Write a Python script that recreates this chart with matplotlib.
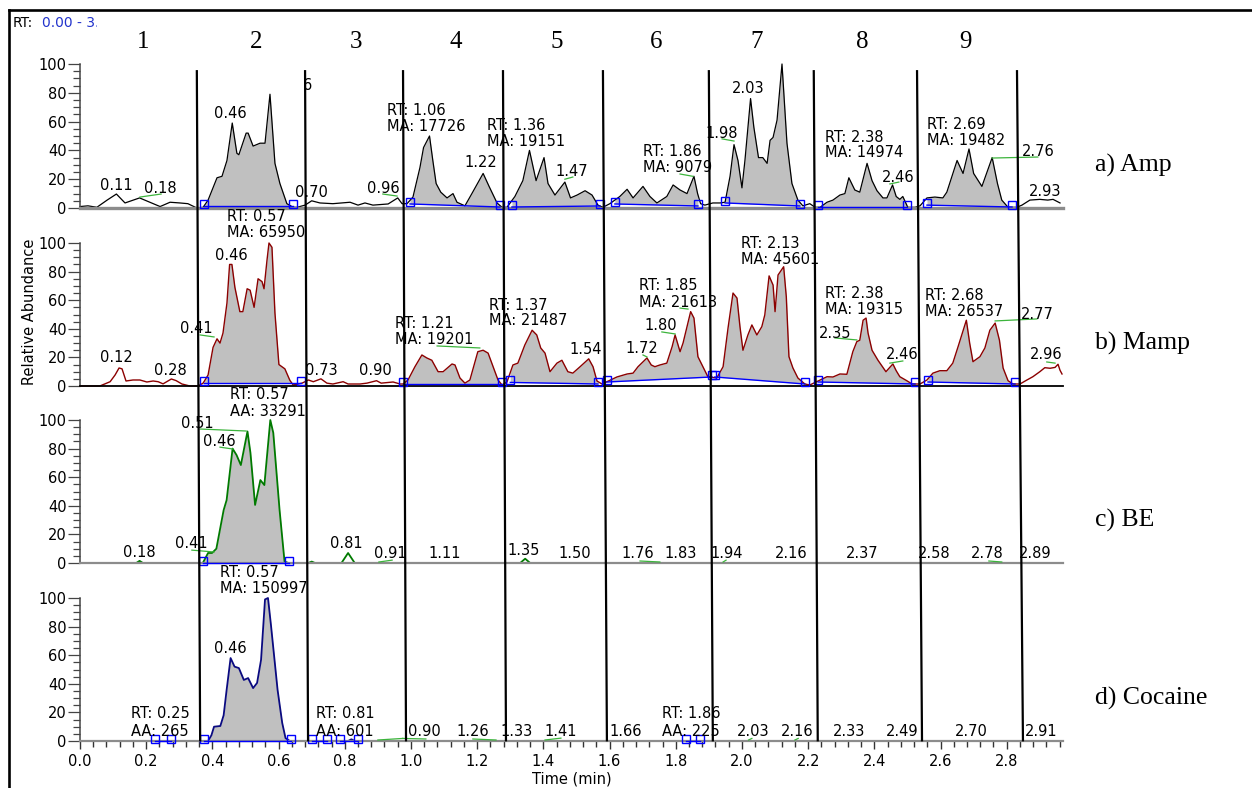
import numpy as np
import matplotlib
matplotlib.use("Agg")
import matplotlib.pyplot as plt
from matplotlib.lines import Line2D
from matplotlib.transforms import Bbox
from matplotlib.ticker import MultipleLocator, FormatStrFormatter

# ---------------------------------------------------------------- traces
# a) Amp  (time in min, relative abundance in %)
amp_t = [0.000, 0.024, 0.051, 0.082, 0.110, 0.136, 0.180, 0.242, 0.272, 0.302,
         0.326, 0.353, 0.372, 0.387, 0.414, 0.429, 0.444, 0.460, 0.474, 0.480,
         0.502, 0.508, 0.523, 0.544, 0.559, 0.574, 0.589, 0.604, 0.625, 0.644,
         0.656, 0.680, 0.700, 0.725, 0.764, 0.816, 0.840, 0.861, 0.885, 0.915,
         0.931, 0.960, 0.973, 0.988, 1.006, 1.027, 1.038, 1.056, 1.066, 1.076,
         1.090, 1.109, 1.127, 1.139, 1.163, 1.184, 1.218, 1.236, 1.260, 1.275,
         1.290, 1.314, 1.338, 1.358, 1.378, 1.402, 1.414, 1.435, 1.465, 1.482,
         1.502, 1.526, 1.547, 1.565, 1.580, 1.601, 1.631, 1.653, 1.671, 1.701,
         1.722, 1.743, 1.773, 1.792, 1.813, 1.834, 1.855, 1.866, 1.875, 1.888,
         1.912, 1.934, 1.949, 1.964, 1.976, 1.988, 2.000, 2.009, 2.026, 2.036,
         2.050, 2.063, 2.076, 2.085, 2.094, 2.106, 2.121, 2.136, 2.151, 2.169,
         2.184, 2.205, 2.221, 2.236, 2.257, 2.275, 2.296, 2.311, 2.323, 2.341,
         2.356, 2.378, 2.393, 2.408, 2.426, 2.438, 2.455, 2.466, 2.477, 2.486,
         2.501, 2.523, 2.538, 2.559, 2.583, 2.607, 2.619, 2.650, 2.668, 2.686,
         2.700, 2.725, 2.756, 2.772, 2.785, 2.804, 2.831, 2.846, 2.870, 2.900,
         2.924, 2.940, 2.961]
amp_v = [1, 1.5, 0.5, 5.5, 9.7, 3.5, 7, 1, 4, 3.5,
         3, 0, 0.5, 5.5, 21, 22, 33, 59, 38, 37,
         52, 52, 43, 45, 45, 79, 31, 17, 3, 0.5,
         0.5, 2, 5, 3.5, 3, 4, 2, 3.5, 2, 2.5,
         2.8, 7, 3, 3, 7.6, 28, 42, 50, 33, 17,
         11, 7, 10, 4, 1.5, 10, 24, 15, 3.5, 0.5,
         0.5, 8, 19, 40, 19, 35, 17, 9, 18, 7,
         9, 12, 9, 2, 0.5, 3, 8, 13, 7, 15,
         8, 3.5, 8, 16, 12.5, 10, 22, 10, 3, 2,
         3.5, 3.5, 4, 22, 44, 33, 14, 33, 76, 56,
         35, 35, 31, 47, 49, 61, 100, 45, 17, 5.5,
         1.5, 3, 0.5, 0.5, 4, 5.5, 9, 10, 21, 12.5,
         11, 31, 19, 12, 7, 7, 16, 8, 6, 8,
         0.5, 0.5, 1.5, 7, 7.6, 7, 11, 33, 24, 41,
         24, 15, 35, 17, 5.5, 0.5, 0.5, 2, 5.5, 6,
         5.5, 6, 3.5]

# b) Mamp
mamp_t = [0.000, 0.060, 0.091, 0.106, 0.118, 0.127, 0.139, 0.160, 0.181, 0.202,
          0.221, 0.236, 0.251, 0.276, 0.290, 0.308, 0.332, 0.356, 0.372, 0.387,
          0.402, 0.414, 0.423, 0.432, 0.444, 0.452, 0.459, 0.468, 0.483, 0.492,
          0.505, 0.514, 0.526, 0.538, 0.550, 0.556, 0.565, 0.571, 0.580, 0.589,
          0.601, 0.619, 0.634, 0.644, 0.671, 0.690, 0.705, 0.728, 0.746, 0.764,
          0.795, 0.810, 0.846, 0.867, 0.896, 0.910, 0.946, 0.967, 0.976, 0.991,
          1.012, 1.033, 1.048, 1.063, 1.082, 1.097, 1.124, 1.133, 1.148, 1.163,
          1.178, 1.202, 1.218, 1.233, 1.248, 1.263, 1.275, 1.290, 1.308, 1.323,
          1.344, 1.366, 1.380, 1.392, 1.405, 1.420, 1.441, 1.456, 1.474, 1.489,
          1.511, 1.537, 1.550, 1.562, 1.577, 1.592, 1.622, 1.653, 1.671, 1.686,
          1.713, 1.726, 1.737, 1.752, 1.773, 1.789, 1.798, 1.813, 1.822, 1.845,
          1.855, 1.867, 1.882, 1.897, 1.924, 1.943, 1.958, 1.973, 1.985, 1.994,
          2.003, 2.018, 2.030, 2.045, 2.060, 2.069, 2.082, 2.094, 2.100, 2.109,
          2.126, 2.134, 2.142, 2.154, 2.169, 2.190, 2.205, 2.236, 2.257, 2.275,
          2.296, 2.317, 2.335, 2.347, 2.356, 2.366, 2.375, 2.381, 2.393, 2.411,
          2.435, 2.456, 2.466, 2.477, 2.498, 2.514, 2.538, 2.559, 2.577, 2.598,
          2.619, 2.637, 2.653, 2.678, 2.688, 2.698, 2.719, 2.734, 2.749, 2.765,
          2.778, 2.789, 2.804, 2.819, 2.840, 2.861, 2.879, 2.900, 2.915, 2.931,
          2.946, 2.955, 2.961, 2.967]
mamp_v = [0, 0, 3, 7.7, 12.6, 12, 3.5, 4.2, 4.2, 2.8,
          3.5, 3, 1.5, 4.9, 3.8, 1.4, 0, 0, 2, 7.7,
          27, 33, 30, 37, 58, 85, 85, 69, 52, 52,
          68, 67, 55, 75, 73, 68, 88, 100, 97, 51,
          15, 12, 4, 0.7, 2, 4.2, 3, 5, 2, 1.4,
          3, 1.4, 1.4, 2, 3.7, 2, 2.8, 1.4, 1.4, 4.2,
          13.5, 21.7, 19.6, 18, 10, 10, 15.4, 14.7, 5.6, 2,
          4.2, 24, 25, 23, 13.5, 4.2, 0.7, 2.8, 14.7, 16,
          28.7, 39, 35.7, 26.6, 23, 10, 16, 18, 10, 9,
          13.5, 19, 13.5, 3.5, 1.4, 3, 6.3, 8.4, 9, 13.5,
          19.6, 14.7, 13.5, 14.7, 16, 27.5, 35.7, 24, 30, 52,
          47.5, 20.5, 13.5, 6.5, 5.6, 13.5, 40.6, 65, 61.5, 41.5,
          25, 35.7, 42.7, 35.7, 41.5, 49.7, 77, 70.6, 52, 77.6,
          83.4, 62.4, 20.5, 12.6, 5.6, 1.4, 0.7, 4.2, 6.5, 6.3,
          8.4, 8.2, 24, 31, 32, 46, 47.5, 37, 25, 18,
          10, 15.4, 10.7, 6.5, 3.7, 1.4, 1.4, 4.2, 9, 10.7,
          10.7, 16, 27.5, 46, 30, 17, 20.5, 26.6, 39, 44,
          32, 12.6, 3.7, 1.4, 1.4, 4.2, 6.5, 10, 12.8, 12.4,
          13, 15.2, 11, 8.4]

# c) BE
be_t = [0.000, 0.170, 0.180, 0.190, 0.371, 0.387, 0.399, 0.412, 0.434, 0.443,
        0.461, 0.473, 0.486, 0.506, 0.515, 0.529, 0.545, 0.557, 0.575, 0.584,
        0.603, 0.618, 0.630, 0.690, 0.700, 0.710, 0.790, 0.810, 0.830, 1.330,
        1.345, 1.360, 2.970]
be_v = [0, 0, 1.5, 0, 0, 7, 7, 10, 37, 44,
        80, 75.5, 68.5, 92, 77, 40.6, 58, 54.5, 100, 91,
        37, 1, 0, 0, 1, 0, 0, 7, 0, 0,
        3, 0, 0]

# d) Cocaine
coc_t = [0.000, 0.387, 0.397, 0.405, 0.424, 0.434, 0.443, 0.455, 0.467, 0.480,
         0.495, 0.508, 0.523, 0.535, 0.547, 0.559, 0.568, 0.577, 0.597, 0.611,
         0.621, 0.634, 0.810, 0.820, 0.830, 2.970]
coc_v = [0, 0, 4, 10, 10.5, 18, 35.7, 58, 52, 51,
         42.7, 44, 37, 40.6, 56.7, 99, 100, 81, 35.7, 12.6,
         2, 0, 0, 1.2, 0, 0]

# integration windows: (start time, start level, end time, end level)
amp_windows = [(0.375, 1.4, 0.645, 1.4), (0.997, 2.8, 1.269, 0.7),
               (1.305, 0.7, 1.571, 1.4), (1.616, 2.8, 1.867, 1.4),
               (1.949, 3.5, 2.175, 1.4), (2.230, 0.7, 2.498, 0.7),
               (2.559, 2.0, 2.816, 0.7)]
mamp_windows = [(0.375, 2.0, 0.668, 2.0), (0.976, 1.4, 1.275, 1.4),
                (1.300, 2.5, 1.565, 1.4), (1.592, 2.8, 1.909, 6.3),
                (1.918, 6.3, 2.190, 1.4), (2.230, 2.8, 2.523, 1.4),
                (2.562, 2.8, 2.825, 1.4)]
be_windows = [(0.372, 0, 0.631, 0)]
coc_windows = [(0.375, 0, 0.636, 0), (0.227, 0, 0.274, 0), (0.700, 0, 0.745, 0),
               (0.786, 0, 0.840, 0), (1.830, 0, 1.874, 0)]

# peak annotations: (text, time, level, horizontal alignment)
amp_labels = [("0.11", 0.109, 15.3, "center"), ("0.18", 0.242, 13.2, "center"),
              ("0.46", 0.453, 65.3, "center"), ("6", 0.689, 85.4, "center"),
              ("0.70", 0.698, 11.1, "center"), ("0.96", 0.915, 13.2, "center"),
              ("RT: 1.06", 0.927, 68.0, "left"), ("MA: 17726", 0.927, 56.3, "left"),
              ("1.22", 1.211, 31.3, "center"),
              ("RT: 1.36", 1.230, 57.6, "left"), ("MA: 19151", 1.230, 46.5, "left"),
              ("1.47", 1.486, 25.0, "center"),
              ("RT: 1.86", 1.701, 38.9, "left"), ("MA: 9079", 1.701, 27.8, "left"),
              ("1.98", 1.940, 52.0, "center"), ("2.03", 2.018, 83.3, "center"),
              ("RT: 2.38", 2.251, 49.3, "left"), ("MA: 14974", 2.251, 38.2, "left"),
              ("2.46", 2.471, 21.5, "center"),
              ("RT: 2.69", 2.559, 58.3, "left"), ("MA: 19482", 2.559, 47.2, "left"),
              ("2.76", 2.894, 38.9, "center"), ("2.93", 2.915, 11.8, "center")]
mamp_labels = [("RT: 0.57", 0.444, 118.2, "left"), ("MA: 65950", 0.444, 107.0, "left"),
               ("0.12", 0.109, 19.6, "center"), ("0.28", 0.272, 10.5, "center"),
               ("0.46", 0.456, 91.6, "center"), ("0.41", 0.350, 39.9, "center"),
               ("0.73", 0.728, 10.5, "center"), ("0.90", 0.891, 10.5, "center"),
               ("RT: 1.21", 0.952, 43.4, "left"), ("MA: 19201", 0.952, 32.2, "left"),
               ("RT: 1.37", 1.236, 56.6, "left"), ("MA: 21487", 1.236, 45.5, "left"),
               ("1.54", 1.529, 25.2, "center"), ("1.72", 1.698, 25.9, "center"),
               ("1.80", 1.755, 42.0, "center"),
               ("RT: 1.85", 1.689, 70.6, "left"), ("MA: 21613", 1.689, 58.7, "left"),
               ("RT: 2.13", 1.997, 100.0, "left"), ("MA: 45601", 1.997, 88.8, "left"),
               ("RT: 2.38", 2.251, 65.0, "left"), ("MA: 19315", 2.251, 53.8, "left"),
               ("2.35", 2.281, 37.0, "center"), ("2.46", 2.483, 21.7, "center"),
               ("RT: 2.68", 2.553, 63.6, "left"), ("MA: 26537", 2.553, 52.4, "left"),
               ("2.77", 2.891, 50.3, "center"), ("2.96", 2.918, 21.7, "center")]
be_labels = [("RT: 0.57", 0.453, 117.5, "left"), ("AA: 33291", 0.453, 105.6, "left"),
             ("0.51", 0.353, 97.9, "center"), ("0.46", 0.420, 85.3, "center"),
             ("0.18", 0.178, 7.0, "center"), ("0.41", 0.335, 13.3, "center"),
             ("0.81", 0.804, 13.3, "center"), ("0.91", 0.937, 6.3, "center"),
             ("1.11", 1.103, 6.3, "center"), ("1.35", 1.341, 8.4, "center"),
             ("1.50", 1.495, 6.3, "center"), ("1.76", 1.686, 6.3, "center"),
             ("1.83", 1.816, 6.3, "center"), ("1.94", 1.955, 6.3, "center"),
             ("2.16", 2.148, 6.3, "center"), ("2.37", 2.363, 6.3, "center"),
             ("2.58", 2.580, 6.3, "center"), ("2.78", 2.740, 6.3, "center"),
             ("2.89", 2.885, 6.3, "center")]
coc_labels = [("RT: 0.57", 0.423, 117.5, "left"), ("MA: 150997", 0.423, 106.3, "left"),
              ("0.46", 0.453, 65.0, "center"),
              ("RT: 0.25", 0.154, 18.9, "left"), ("AA: 265", 0.154, 6.3, "left"),
              ("RT: 0.81", 0.713, 18.9, "left"), ("AA: 601", 0.713, 6.3, "left"),
              ("0.90", 1.039, 6.3, "center"), ("1.26", 1.187, 6.3, "center"),
              ("1.33", 1.320, 6.3, "center"), ("1.41", 1.453, 6.3, "center"),
              ("1.66", 1.650, 6.3, "center"),
              ("RT: 1.86", 1.758, 18.9, "left"), ("AA: 225", 1.758, 6.3, "left"),
              ("2.03", 2.033, 6.3, "center"), ("2.16", 2.166, 6.3, "center"),
              ("2.33", 2.323, 6.3, "center"), ("2.49", 2.483, 6.3, "center"),
              ("2.70", 2.692, 6.3, "center"), ("2.91", 2.903, 6.3, "center")]

# short green leaders joining a label to its apex: (t0, v0, t1, v1)
amp_leaders = [(0.181, 7.6, 0.245, 9.7), (0.915, 9.7, 0.958, 8.3),
               (1.465, 20.0, 1.489, 21.5), (1.813, 23.6, 1.852, 22.0),
               (1.940, 48.0, 1.976, 46.5), (2.447, 16.7, 2.474, 18.0),
               (2.756, 34.7, 2.894, 35.4)]
mamp_leaders = [(0.363, 35.7, 0.405, 34.3), (1.079, 28.0, 1.208, 26.6),
                (1.701, 21.7, 1.713, 20.3), (1.758, 37.8, 1.798, 36.4),
                (1.813, 54.5, 1.837, 53.8), (2.281, 33.6, 2.347, 32.2),
                (2.447, 16.0, 2.486, 17.5), (2.765, 45.5, 2.891, 46.9),
                (2.921, 16.8, 2.946, 16.0)]
be_leaders = [(0.363, 93.7, 0.502, 92.3), (0.423, 81.0, 0.462, 79.7),
              (0.338, 9.0, 0.405, 7.7), (0.903, 0.7, 0.943, 2.0),
              (1.692, 1.4, 1.752, 0.7), (1.943, 0.7, 1.952, 2.0),
              (2.746, 1.4, 2.785, 0.7)]
coc_leaders = [(0.900, 0.7, 0.975, 1.8), (0.975, 1.8, 1.045, 1.4),
               (1.187, 1.4, 1.257, 0.7), (1.405, 0.7, 1.453, 2.0),
               (2.020, 0.7, 2.030, 1.8), (2.160, 0.7, 2.170, 1.8)]

section_ids = ["1", "2", "3", "4", "5", "6", "7", "8", "9"]
# time-window boundaries at the top and bottom of the stack
boundary_top = [0.353, 0.680, 0.976, 1.278, 1.580, 1.900, 2.217, 2.529, 2.831]
boundary_bottom = [0.363, 0.689, 0.985, 1.287, 1.592, 1.912, 2.229, 2.544, 2.849]

# ---------------------------------------------------------------- layout
W, H = 1252, 788
fig = plt.figure(figsize=(W / 100, H / 100), dpi=100)
fig.patch.set_facecolor("white")


def fx(x):
    return x / W


def fy(y):
    return 1 - y / H


X_LEFT, X_RIGHT = 80, 1063
T_MAX = 2.97
LABEL_FS = 10.5
SERIF = ["Liberation Serif", "DejaVu Serif"]

panels = [
    dict(t=amp_t, v=amp_v, color="black", lw=0.9, win=amp_windows,
         labels=amp_labels, leaders=amp_leaders, base="#8c8c8c", base_lw=2.4,
         px=(208, 64), tag="a) Amp", tag_y=165),
    dict(t=mamp_t, v=mamp_v, color="#8b0000", lw=1.0, win=mamp_windows,
         labels=mamp_labels, leaders=mamp_leaders, base="black", base_lw=1.3,
         px=(386, 243), tag="b) Mamp", tag_y=343),
    dict(t=be_t, v=be_v, color="#007a00", lw=1.3, win=be_windows,
         labels=be_labels, leaders=be_leaders, base="#8c8c8c", base_lw=1.6,
         px=(563, 420), tag="c) BE", tag_y=520),
    dict(t=coc_t, v=coc_v, color="#0a0a80", lw=1.3, win=coc_windows,
         labels=coc_labels, leaders=coc_leaders, base="#8c8c8c", base_lw=1.6,
         px=(741, 598), tag="d) Cocaine", tag_y=698),
]

axes = []
for i, p in enumerate(panels):
    y0, y100 = p["px"]
    ax = fig.add_axes([fx(X_LEFT), fy(y0), (X_RIGHT - X_LEFT) / W, (y0 - y100) / H])
    ax.set_xlim(0, T_MAX)
    ax.set_ylim(0, 100)
    ax.patch.set_alpha(0)
    for s in ("top", "right"):
        ax.spines[s].set_visible(False)
    ax.spines["left"].set_bounds(0, 100)
    ax.spines["left"].set_color("#444444")
    ax.spines["left"].set_linewidth(1.1)
    ax.spines["bottom"].set_color(p["base"])
    ax.spines["bottom"].set_linewidth(p["base_lw"])

    ax.yaxis.set_major_locator(MultipleLocator(20))
    ax.yaxis.set_minor_locator(MultipleLocator(5))
    ax.tick_params(axis="y", which="major", length=8.5, width=0.9, color="#444444",
                   pad=1, labelsize=10.5)
    ax.tick_params(axis="y", which="minor", length=5, width=0.9, color="#444444")

    if i < 3:
        ax.tick_params(axis="x", which="both", bottom=False, labelbottom=False)
    else:
        ax.xaxis.set_major_locator(MultipleLocator(0.2))
        ax.xaxis.set_minor_locator(MultipleLocator(0.04))
        ax.xaxis.set_major_formatter(FormatStrFormatter("%.1f"))
        ax.tick_params(axis="x", which="major", length=6, width=1.0, color="#333333",
                       pad=3, labelsize=10.5)
        ax.tick_params(axis="x", which="minor", length=4.5, width=1.0, color="#333333")

    t = np.asarray(p["t"])
    v = np.asarray(p["v"])

    # shaded integrated areas and their baselines
    for (t0, b0, t1, b1) in p["win"]:
        grid = np.linspace(t0, t1, 300)
        tr = np.interp(grid, t, v)
        base = np.interp(grid, [t0, t1], [b0, b1])
        ax.fill_between(grid, base, np.maximum(tr, base), color="#c0c0c0",
                        lw=0, zorder=1, clip_on=False)
        ax.plot([t0, t1], [b0, b1], color="#0000ff", lw=1.0, zorder=3, clip_on=False)
        ax.plot([t0, t1], [b0 + 1.6, b1 + 1.6], ls="none", marker="s", ms=5.5,
                mfc="none", mec="#0000ff", mew=1.0, zorder=3, clip_on=False)

    ax.plot(t, v, color=p["color"], lw=p["lw"], zorder=2.5, clip_on=False)

    for (t0, v0, t1, v1) in p["leaders"]:
        ax.plot([t0, t1], [v0, v1], color="#3cb43c", lw=0.9, zorder=3, clip_on=False)

    for (txt, tt, vv, ha) in p["labels"]:
        ax.text(tt, vv, txt, ha=ha, va="center", fontsize=LABEL_FS, zorder=4,
                clip_on=False)

    fig.text(fx(1095), fy(p["tag_y"]), p["tag"], ha="left", va="center",
             fontsize=18.5, family=SERIF)
    axes.append(ax)

axes[3].set_xlabel("Time (min)", fontsize=10.5, labelpad=2)
fig.text(fx(30), fy(312), "Relative Abundance", rotation=90, ha="center",
         va="center", fontsize=10.5)

# section numbers above the windows
section_x = [143, 256, 356, 456, 557, 656, 757, 862, 965]
for s, x in zip(section_ids, section_x):
    fig.text(fx(x), fy(42), s, ha="center", va="center", fontsize=18, family=SERIF)

# window boundaries running through all four traces
inv = fig.transFigure.inverted()
for tt, tb in zip(boundary_top, boundary_bottom):
    p_top = inv.transform(axes[0].transData.transform((tt, 95.0)))
    p_bot = inv.transform(axes[3].transData.transform((tb, 0.5)))
    fig.add_artist(Line2D([p_top[0], p_bot[0]], [p_top[1], p_bot[1]],
                          transform=fig.transFigure, color="black", lw=1.6,
                          zorder=10))

# outer frame (top and left edges)
fig.add_artist(Line2D([fx(9), fx(W)], [fy(10), fy(10)], transform=fig.transFigure,
                      color="black", lw=1.9))
fig.add_artist(Line2D([fx(9), fx(9)], [fy(10), fy(H)], transform=fig.transFigure,
                      color="black", lw=1.9))

# range header, cut off at the edge of its box
fig.text(fx(13), fy(23), "RT:", ha="left", va="center", fontsize=10)
rng = fig.text(fx(42), fy(23), "0.00 - 3.00", ha="left", va="center",
               fontsize=10, color="#2233cc")
rng.set_clip_box(Bbox.from_extents(0, 0, 97, H))
rng.set_clip_on(True)

fig.savefig("out.png", dpi=100, facecolor="white")
